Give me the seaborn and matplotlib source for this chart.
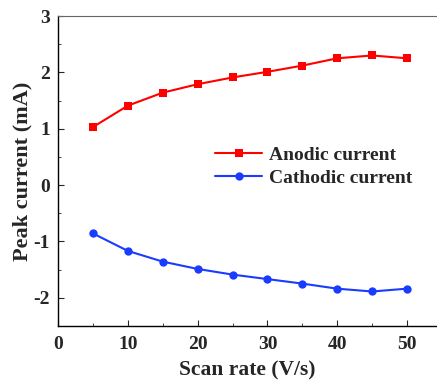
import pandas as pd
import matplotlib
matplotlib.use('Agg')

import matplotlib.pyplot as plt
import seaborn as sns
from matplotlib.ticker import MultipleLocator

# data
scan_rate = [5, 10, 15, 20, 25, 30, 35, 40, 45, 50]
anodic = [1.03, 1.41, 1.64, 1.79, 1.91, 2.01, 2.12, 2.25, 2.30, 2.25]
cathodic = [-0.86, -1.17, -1.36, -1.49, -1.59, -1.67, -1.75, -1.84, -1.89, -1.84]

sns.set_style('ticks')
plt.rcParams['font.family'] = ['Liberation Serif', 'DejaVu Serif']
plt.rcParams['font.weight'] = 'bold'
plt.rcParams['axes.unicode_minus'] = False

fig = plt.figure(figsize=(4.37, 3.82), dpi=100)
ax = fig.add_axes([0.133, 0.147, 0.867, 0.811])

sns.lineplot(x=scan_rate, y=anodic, ax=ax, color='#ff0000', marker='s',
             markersize=6, markeredgewidth=0, linewidth=1.5,
             label='Anodic current')
sns.lineplot(x=scan_rate, y=cathodic, ax=ax, color='#1a3cff', marker='o',
             markersize=6, markeredgewidth=0, linewidth=1.5,
             label='Cathodic current')

ax.set_xlim(0, 54.3)
ax.set_ylim(-2.5, 3)
ax.xaxis.set_major_locator(MultipleLocator(10))
ax.xaxis.set_minor_locator(MultipleLocator(5))
ax.yaxis.set_major_locator(MultipleLocator(1))
ax.yaxis.set_minor_locator(MultipleLocator(0.5))
ax.tick_params(which='both', direction='in', labelsize=14)
ax.tick_params(axis='x', pad=7)
ax.tick_params(axis='y', pad=6)
ax.tick_params(which='major', length=4)
ax.tick_params(which='minor', length=2)

ax.spines['right'].set_visible(False)
ax.spines['top'].set_color('#666666')
for s in ['left', 'bottom']:
    ax.spines[s].set_color('black')
    ax.spines[s].set_linewidth(1.0)

ax.set_xlabel('Scan rate (V/s)', fontsize=15.5, fontweight='bold', labelpad=6)
ax.set_ylabel('Peak current (mA)', fontsize=16, fontweight='bold', labelpad=0.5)

ax.legend(loc='upper left', bbox_to_anchor=(0.415, 0.58), frameon=False,
          prop={'size': 14, 'weight': 'bold'}, handlelength=2.4,
          handletextpad=0.35, labelspacing=0.3, borderaxespad=0,
          borderpad=0)

fig.savefig('out.png', dpi=100)
plt.close()
